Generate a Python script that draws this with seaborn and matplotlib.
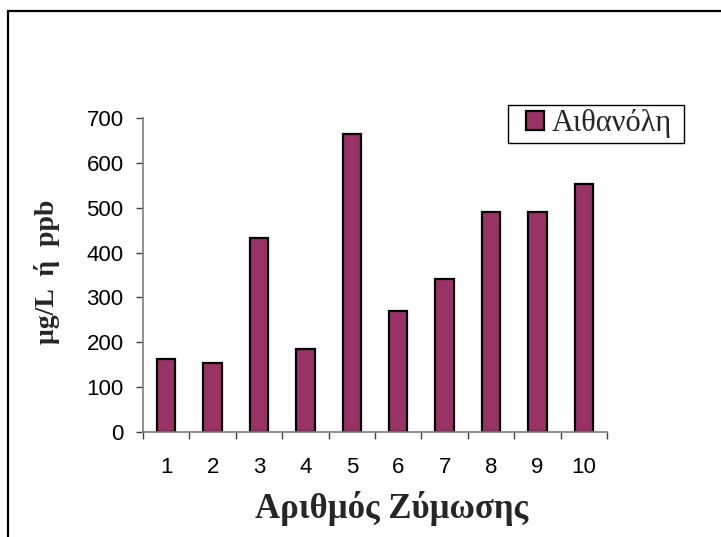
import numpy as np
import pandas as pd
import seaborn as sns
import matplotlib
matplotlib.use("Agg")
import matplotlib.pyplot as plt
from matplotlib.patches import Rectangle
from matplotlib.ticker import FixedLocator

# ---- data ----
fermentations = ["1", "2", "3", "4", "5", "6", "7", "8", "9", "10"]
ethanol = [163, 154, 433, 186, 665, 270, 340, 490, 490, 553]
series_name = "Αιθανόλη"
y_ticks = [0, 100, 200, 300, 400, 500, 600, 700]
x_title = "Αριθμός Ζύμωσης"
y_title = "μg/L  ή  ppb"

df = pd.DataFrame({"fermentation": fermentations, "value": ethanol,
                   "series": [series_name] * len(fermentations)})

sns.set_theme(style="white")
plt.rcParams["font.family"] = ["Liberation Sans", "DejaVu Sans"]

W, H = 721, 537
fig = plt.figure(figsize=(W / 100, H / 100), dpi=100)
fig.patch.set_facecolor("white")
ax = fig.add_axes([143 / W, 1 - 432 / H, 464 / W, 314 / H])

sns.barplot(data=df, x="fermentation", y="value", hue="series",
            palette=["#993366"], saturation=1, width=0.4, dodge=False,
            edgecolor="black", linewidth=1.6, ax=ax, legend=True)

ax.set_xlim(-0.5, len(fermentations) - 0.5)
ax.set_ylim(0, 700)
ax.set_yticks(y_ticks)
ax.set_yticklabels([str(v) for v in y_ticks])
ax.set_xlabel("")
ax.set_ylabel("")

for s in ["top", "right"]:
    ax.spines[s].set_visible(False)
for s in ["left", "bottom"]:
    ax.spines[s].set_color("#7f7f7f")
    ax.spines[s].set_linewidth(1.2)

ax.xaxis.set_minor_locator(FixedLocator(np.arange(-0.5, len(fermentations), 1.0)))
ax.tick_params(axis="x", which="major", length=0, pad=18, labelsize=16, colors="black")
ax.tick_params(axis="x", which="minor", bottom=True, length=5, width=1, color="#404040", direction="out")
ax.tick_params(axis="y", which="major", left=True, length=5, width=1, color="#404040",
               direction="out", pad=9, labelsize=16, labelcolor="black")

fig.text(392 / W, 1 - 508 / H, x_title, ha="center", va="center",
         fontsize=25, fontweight="bold", family=["Liberation Serif", "DejaVu Serif"])
fig.text(47 / W, 1 - 272 / H, y_title, ha="center", va="center", rotation=90,
         fontsize=20, fontweight="bold", family=["Liberation Serif", "DejaVu Serif"])

# legend (entries inside a drawn box)
leg = ax.legend(loc="center left", bbox_to_anchor=(526 / W, 1 - 124 / H),
                bbox_transform=fig.transFigure, frameon=False,
                borderpad=0, borderaxespad=0,
                handlelength=0.6, handleheight=0.6, handletextpad=0.25,
                prop={"family": "Liberation Serif", "size": 22})
fig.patches.append(Rectangle((508 / W, 1 - 143 / H), 176 / W, 38 / H, transform=fig.transFigure,
                             fill=False, edgecolor="black", linewidth=1.0, figure=fig))

# figure border (chart area frame, cut off at right and bottom)
fig.patches.append(Rectangle((8 / W, -0.2), 2.0, 1.2 - 10.5 / H, transform=fig.transFigure,
                             fill=False, edgecolor="black", linewidth=1.6, figure=fig))

fig.savefig("out.png", dpi=100)
